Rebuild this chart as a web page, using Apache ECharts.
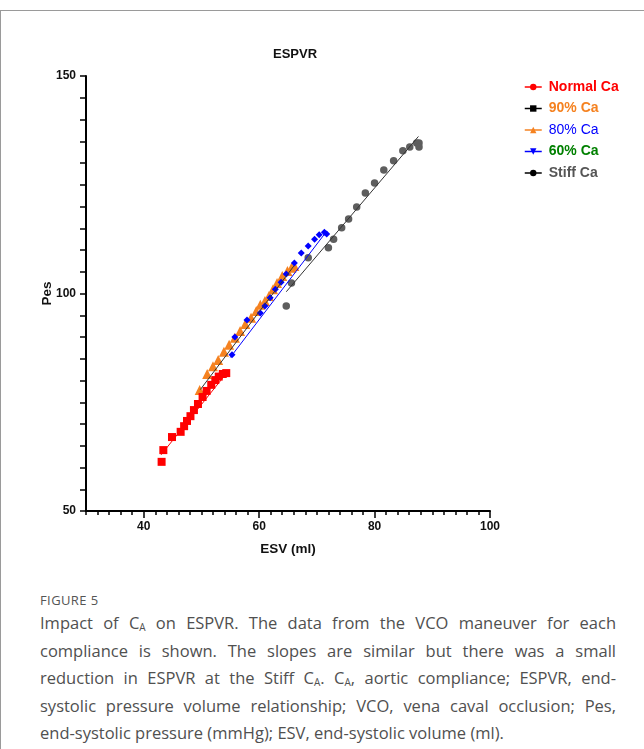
<!DOCTYPE html>
<html><head><meta charset="utf-8">
<script src="https://cdn.jsdelivr.net/npm/echarts@6/dist/echarts.min.js"></script>
<style>
html,body{margin:0;padding:0;background:#fff;width:644px;height:749px;overflow:hidden;}
#frame{position:absolute;left:0;top:10px;width:644px;height:739px;border-left:1px solid #9a9a9a;border-top:1px solid #9a9a9a;box-sizing:border-box;}
#chart{position:absolute;left:0;top:0;width:644px;height:580px;}
#cap{position:absolute;left:40px;top:592px;width:576px;font-family:"Open Sans",sans-serif;color:#505050;}
#cap .fig{font-size:13px;letter-spacing:0.4px;color:#555;height:17px;line-height:17px;}
#cap .ln{font-size:16.5px;line-height:27.5px;height:27.5px;text-align:justify;text-align-last:justify;white-space:nowrap;}
#cap .ln.last{text-align-last:left;}
#cap sub{font-size:10px;vertical-align:-2px;line-height:0;}
</style>
</head><body>
<div id="frame"></div>
<div id="chart"></div>
<div id="cap">
<div class="fig">FIGURE 5</div>
<div class="ln">Impact of C<sub>A</sub> on ESPVR. The data from the VCO maneuver for each</div>
<div class="ln">compliance is shown. The slopes are similar but there was a small</div>
<div class="ln">reduction in ESPVR at the Stiff C<sub>A</sub>. C<sub>A</sub>, aortic compliance; ESPVR, end-</div>
<div class="ln">systolic pressure volume relationship; VCO, vena caval occlusion; Pes,</div>
<div class="ln last">end-systolic pressure (mmHg); ESV, end-systolic volume (ml).</div>
</div>
<script>
// ---- data ----
const seriesNames = ['Normal Ca', '90% Ca', '80% Ca', '60% Ca', 'Stiff Ca'];

const normalX = [43.1, 43.4, 44.9, 46.4, 47.0, 47.5, 48.1, 48.7, 49.4, 50.2, 50.9, 51.7, 52.4, 53.0, 53.7, 54.3];
const normalY = [61.3, 64.0, 67.0, 68.2, 69.5, 70.7, 71.8, 73.2, 74.6, 76.2, 77.6, 79.0, 80.1, 80.9, 81.5, 81.7];

const ca90X = [];
const ca90Y = [];

const ca80X = [49.7, 51.0, 52.0, 52.9, 53.9, 54.8, 55.8, 56.7, 57.6, 58.6, 59.5, 60.2, 61.0, 61.7, 62.4, 63.1, 64.0, 64.9, 65.6, 66.1];
const ca80Y = [77.8, 81.5, 83.3, 84.7, 86.6, 88.2, 89.8, 91.4, 93.0, 94.4, 96.0, 97.4, 98.3, 99.4, 101.0, 102.4, 104.0, 105.2, 105.9, 106.3];

const ca60X = [55.3, 55.8, 57.9, 60.2, 61.0, 61.9, 62.8, 63.8, 64.7, 66.1, 67.3, 68.5, 69.6, 70.4, 71.3, 71.7];
const ca60Y = [85.9, 90.0, 93.9, 95.5, 97.1, 99.0, 101.0, 102.6, 104.5, 107.0, 109.3, 110.9, 112.5, 113.5, 114.1, 113.7];

const stiffX = [64.7, 65.6, 68.5, 72.0, 72.9, 74.3, 75.5, 76.9, 78.4, 80.0, 81.6, 83.3, 84.9, 86.1, 87.3, 87.7, 87.7];
const stiffY = [97.1, 102.4, 108.2, 110.5, 112.5, 115.1, 117.1, 119.9, 123.1, 125.4, 128.4, 130.5, 132.8, 133.7, 134.6, 134.6, 133.7];

// fitted lines (end points)
const fitNormal = [[43.0, 62.9], [54.3, 81.6]];
const fit80 = [[49.8, 77.9], [66.0, 106.3]];
const fit60 = [[55.0, 85.3], [71.7, 114.3]];
const fitStiff = [[64.7, 100.4], [87.6, 136.1]];

const xTickLabels = [40, 60, 80, 100];
const yTickLabels = [50, 100, 150];

// ---- build chart ----
const FONT = '"Liberation Sans", Arial, sans-serif';
function pts(xs, ys, sym) { return xs.map((x, i) => ({ value: [x, ys[i]], symbol: sym })); }

function markerSeries(name, xs, ys, legendSym, plotSym, color, size, z) {
  return {
    name, type: 'line', data: pts(xs, ys, plotSym), symbol: legendSym, symbolSize: size,
    showSymbol: true, lineStyle: { color, width: 1.5, opacity: 0 }, itemStyle: { color },
    z, animation: false, silent: true, emphasis: { disabled: true }
  };
}
function fitSeries(data, color, z) {
  return { type: 'line', data, symbol: 'none', lineStyle: { color, width: 1 }, z, animation: false, silent: true };
}

const chart = echarts.init(document.getElementById('chart'), null, { renderer: 'canvas' });
const invTri = 'path://M0,0L10,0L5,10Z';

chart.setOption({
  backgroundColor: 'transparent',
  animation: false,
  title: { text: 'ESPVR', left: 290, top: 43, textAlign: 'center',
    textStyle: { fontFamily: FONT, fontWeight: 'bold', fontSize: 13, color: '#111' } },
  grid: { left: 86, top: 76, width: 404, height: 435, containLabel: false },
  legend: {
    orient: 'vertical', left: 519, top: 75, itemWidth: 17, itemHeight: 8, itemGap: 7.5,
    selectedMode: false,
    lineStyle: { width: 1.5, opacity: 1 },
    textStyle: { fontFamily: FONT, fontSize: 14, fontWeight: 'bold', padding: [0, 0, 0, 2] },
    data: [
      { name: seriesNames[0], textStyle: { color: '#ff0000' }, itemStyle: { color: '#ff0000' }, lineStyle: { color: '#ff0000' } },
      { name: seriesNames[1], textStyle: { color: '#f58220' }, itemStyle: { color: '#000' }, lineStyle: { color: '#000' } },
      { name: seriesNames[2], textStyle: { color: '#0000ff', fontWeight: 'normal' }, itemStyle: { color: '#f58220' }, lineStyle: { color: '#f58220' } },
      { name: seriesNames[3], textStyle: { color: '#008000' }, itemStyle: { color: '#0000ff' }, lineStyle: { color: '#0000ff' } },
      { name: seriesNames[4], textStyle: { color: '#555555' }, itemStyle: { color: '#000' }, lineStyle: { color: '#000' } }
    ]
  },
  xAxis: [
    {
      type: 'value', min: 30, max: 100, interval: 2, position: 'bottom',
      axisLine: { show: true, onZero: false, lineStyle: { color: '#000', width: 2 } },
      axisTick: { show: true, length: 4, lineStyle: { color: '#000', width: 1.5 } },
      axisLabel: { interval: 0, margin: 10, formatter: v => (xTickLabels.indexOf(v) >= 0 ? String(v) : ''),
        fontFamily: FONT, fontWeight: 'bold', fontSize: 12, color: '#111' },
      splitLine: { show: false },
      name: 'ESV (ml)', nameLocation: 'middle', nameGap: 31, nameMoveOverlap: false,
      nameTextStyle: { fontFamily: FONT, fontWeight: 'bold', fontSize: 13.5, color: '#111' }
    },
    {
      type: 'value', min: 30, max: 100, position: 'bottom',
      axisLine: { show: false },
      axisTick: { show: true, length: 7, customValues: xTickLabels, lineStyle: { color: '#000', width: 1.5 } },
      axisLabel: { show: false },
      splitLine: { show: false }
    }
  ],
  yAxis: {
    type: 'value', min: 50, max: 150, interval: 5,
    axisLine: { show: true, onZero: false, lineStyle: { color: '#000', width: 2 } },
    axisTick: { show: true, length: 6, lineStyle: { color: '#000', width: 1.5 } },
    axisLabel: { interval: 0, margin: 10, formatter: v => (yTickLabels.indexOf(v) >= 0 ? String(v) : ''),
      fontFamily: FONT, fontWeight: 'bold', fontSize: 12, color: '#111' },
    splitLine: { show: false },
    name: 'Pes', nameLocation: 'middle', nameGap: 32, nameMoveOverlap: false,
    nameTextStyle: { fontFamily: FONT, fontWeight: 'bold', fontSize: 13.5, color: '#111' }
  },
  series: [
    markerSeries(seriesNames[1], ca90X, ca90Y, 'rect', 'rect', '#000000', 6, 2),
    markerSeries(seriesNames[2], ca80X, ca80Y, 'triangle', 'triangle', '#f58220', 10, 3),
    markerSeries(seriesNames[3], ca60X, ca60Y, invTri, 'diamond', '#0000ff', 7, 4),
    markerSeries(seriesNames[0], normalX, normalY, 'circle', 'rect', '#ff0000', 8, 5),
    markerSeries(seriesNames[4], stiffX, stiffY, 'circle', 'circle', '#5e5e5e', 7.5, 5),
    fitSeries(fitNormal, '#ff0000', 6),
    fitSeries(fit80, '#333333', 6),
    fitSeries(fit60, '#0000ff', 6),
    fitSeries(fitStiff, '#333333', 6)
  ]
});
</script>
</body></html>
